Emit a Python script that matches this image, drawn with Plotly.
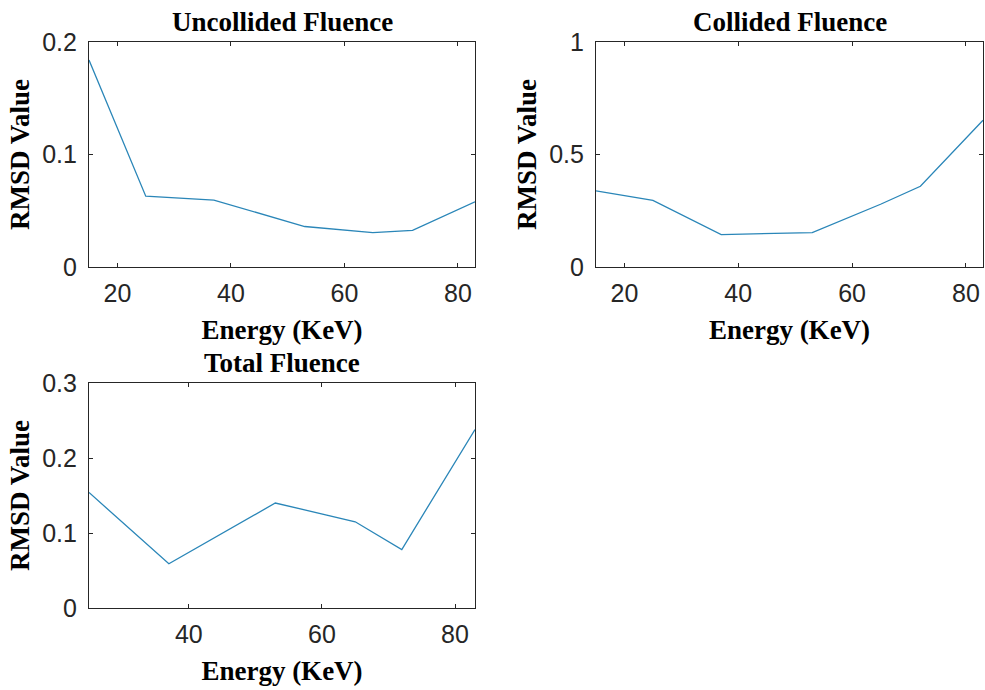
import plotly.graph_objects as go

# Data
energy_uncollided = [15, 25, 37, 53, 65, 72, 83]
rmsd_uncollided = [0.184, 0.063, 0.0595, 0.036, 0.0305, 0.0325, 0.058]

energy_collided = [15, 25, 37, 53, 65, 72, 83]
rmsd_collided = [0.338, 0.296, 0.144, 0.153, 0.279, 0.359, 0.652]

energy_total = [25, 37, 53, 65, 72, 83]
rmsd_total = [0.154, 0.059, 0.140, 0.115, 0.078, 0.238]

titles = ["Uncollided Fluence", "Collided Fluence", "Total Fluence"]
x_label = "Energy (KeV)"
y_label = "RMSD Value"

W, H = 985, 690
LINE = "#2a86b8"
AX = "#262626"
SERIF = "Liberation Serif"
SANS = "Liberation Sans"

def px_x(p):
    return p / W

def px_y(p):
    return 1 - p / H

fig = go.Figure()
fig.add_trace(go.Scatter(x=energy_uncollided, y=rmsd_uncollided, mode="lines",
                         line=dict(color=LINE, width=1.3), xaxis="x", yaxis="y", showlegend=False))
fig.add_trace(go.Scatter(x=energy_collided, y=rmsd_collided, mode="lines",
                         line=dict(color=LINE, width=1.3), xaxis="x2", yaxis="y2", showlegend=False))
fig.add_trace(go.Scatter(x=energy_total, y=rmsd_total, mode="lines",
                         line=dict(color=LINE, width=1.3), xaxis="x3", yaxis="y3", showlegend=False))

def xaxis(domain, anchor, rng, ticks):
    return dict(domain=domain, anchor=anchor, range=rng, tickvals=ticks, automargin=False,
                ticks="inside", ticklen=4, tickcolor=AX, showline=True, linecolor=AX,
                linewidth=1.2, mirror="ticks", showgrid=False, zeroline=False,
                tickfont=dict(family=SANS, size=25, color=AX), ticklabelstandoff=4,
                title=dict(text=x_label, standoff=14,
                           font=dict(family=SERIF, size=27, color="black", weight="bold")))

def yaxis(domain, anchor, rng, ticks, ticktext):
    return dict(domain=domain, anchor=anchor, range=rng, tickvals=ticks, ticktext=ticktext,
                automargin=False,
                ticks="inside", ticklen=4, tickcolor=AX, showline=True, linecolor=AX,
                linewidth=1.2, mirror="ticks", showgrid=False, zeroline=False,
                tickfont=dict(family=SANS, size=25, color=AX), ticklabelstandoff=6,
                title=dict(text=y_label, standoff=4,
                           font=dict(family=SERIF, size=27, color="black", weight="bold")))

xd1 = [px_x(89), px_x(475)]
xd2 = [px_x(596), px_x(983)]
yd1 = [px_y(267), px_y(42)]
yd3 = [px_y(608), px_y(383)]

fig.update_layout(
    width=W, height=H, margin=dict(l=0, r=0, t=0, b=0),
    paper_bgcolor="white", plot_bgcolor="white",
    xaxis=xaxis(xd1, "y", [15, 83], [20, 40, 60, 80]),
    yaxis=yaxis(yd1, "x", [0, 0.2], [0, 0.1, 0.2], ["0", "0.1", "0.2"]),
    xaxis2=xaxis(xd2, "y2", [15, 83], [20, 40, 60, 80]),
    yaxis2=yaxis(yd1, "x2", [0, 1], [0, 0.5, 1], ["0", "0.5", "1"]),
    xaxis3=xaxis(xd1, "y3", [25, 83], [40, 60, 80]),
    yaxis3=yaxis(yd3, "x3", [0, 0.3], [0, 0.1, 0.2, 0.3], ["0", "0.1", "0.2", "0.3"]),
)

title_pos = [((89 + 475) / 2, 22), ((596 + 983) / 2, 22), ((89 + 475) / 2, 363)]
for t, (cx, cy) in zip(titles, title_pos):
    fig.add_annotation(text=t, x=px_x(cx), y=px_y(cy), xref="paper", yref="paper",
                       xanchor="center", yanchor="middle", showarrow=False,
                       font=dict(family=SERIF, size=27, color="black", weight="bold"))

fig.write_html(
    "out.html",
    config={"displayModeBar": False},
    post_script="document.body.style.margin='0';document.body.style.overflow='hidden';",
)
